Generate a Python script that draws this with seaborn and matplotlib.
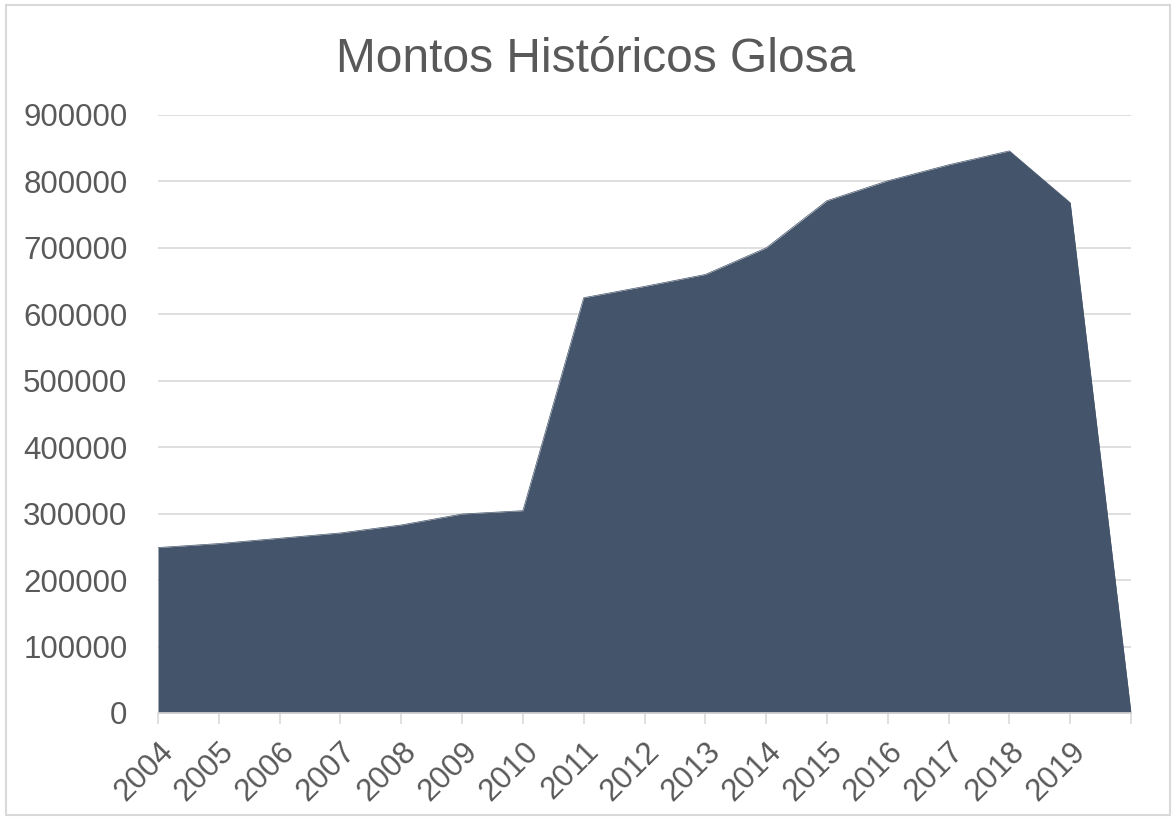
import numpy as np
import pandas as pd
import seaborn as sns
import matplotlib.pyplot as plt
from matplotlib.patches import Rectangle

# values
years = ['2004', '2005', '2006', '2007', '2008', '2009', '2010', '2011',
         '2012', '2013', '2014', '2015', '2016', '2017', '2018', '2019', '']
montos = [249000, 255000, 263000, 271000, 283000, 299500, 304500, 625000,
          642000, 660000, 700000, 771000, 801000, 825000, 846000, 768000, 0]

df = pd.DataFrame({'pos': np.arange(len(years)), 'monto': montos})

sns.set_theme(style='white')
plt.rcParams['font.family'] = ['Liberation Sans', 'DejaVu Sans']

txt = '#595959'
grid = '#d9d9d9'
fill = '#44546a'

fig = plt.figure(figsize=(11.73, 8.19), dpi=100)
ax = fig.add_axes([158 / 1173, 1 - 713 / 819, (1131 - 158) / 1173, (713 - 115) / 819])

sns.lineplot(data=df, x='pos', y='monto', ax=ax, color=fill, linewidth=0.5)
ax.fill_between(df['pos'], df['monto'], 0, color=fill, linewidth=0)

ax.set_xlim(0, len(years) - 1)
ax.set_ylim(0, 900000)
ax.set_yticks(np.arange(0, 900001, 100000))
ax.set_yticklabels([str(v) for v in range(0, 900001, 100000)])
ax.yaxis.grid(True, color=grid, linewidth=1.2)
ax.set_axisbelow(True)

ax.set_xticks(df['pos'])
ax.set_xticklabels(years, rotation=45, ha='right', rotation_mode='anchor')
ax.tick_params(axis='x', length=8, width=1.2, color=grid, labelsize=22.5,
               labelcolor=txt, pad=9, bottom=True)
ax.tick_params(axis='y', length=0, labelsize=22.5, labelcolor=txt, pad=22)
ax.set_xlabel('')
ax.set_ylabel('')

for s in ['top', 'right', 'left']:
    ax.spines[s].set_visible(False)
ax.spines['bottom'].set_color(grid)
ax.spines['bottom'].set_linewidth(1.2)

fig.text(0.508, 1 - 72 / 819, 'Montos Históricos Glosa', ha='center',
         va='baseline', fontsize=34.5, color=txt)

# light outer frame like the chart area border
fig.patches.append(Rectangle((6 / 1173, 4 / 819), 1164 / 1173, 810 / 819,
                             transform=fig.transFigure, fill=False,
                             edgecolor=grid, linewidth=1.5))

fig.savefig('out.png', dpi=100)
